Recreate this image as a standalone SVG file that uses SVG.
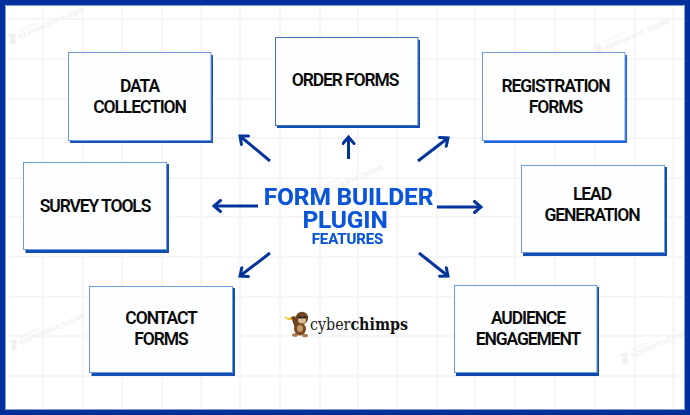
<svg xmlns="http://www.w3.org/2000/svg" width="690" height="415" viewBox="0 0 690 415">
<style>
.box{fill:#fdfeff;stroke:#6f9ade;stroke-width:1}
.sh{fill:#1450b2}
.t{font-family:Roboto,"Liberation Sans",sans-serif;font-weight:600;font-size:17.500px;letter-spacing:-1.100px;fill:#0a0a0a;text-anchor:middle}
.h{font-family:Roboto,"Liberation Sans",sans-serif;font-weight:700;text-anchor:middle;fill:#0b56d8;filter:drop-shadow(.6px .6px 0 #8fb2ee)}
.a{fill:none;stroke:#03339c;stroke-width:3;marker-end:url(#ah)}
.g{stroke:#f6f6f8;stroke-width:2.200;fill:none}
.w{font-family:Roboto,"Liberation Sans",sans-serif;font-size:6.500px;font-weight:500;fill:#ededef;letter-spacing:.5px}
.w2{font-family:Roboto,"Liberation Sans",sans-serif;font-size:3.500px;fill:#f0f0f2}
.m{fill:#f0f0ee}
</style>
<defs>
<marker id="ah" markerUnits="userSpaceOnUse" markerWidth="14" markerHeight="14" refX="11" refY="7" orient="auto"><path d="M4.500 1.500L11 7L4.500 12.500" fill="none" stroke="#03339c" stroke-width="3" stroke-linecap="round"/></marker>
<g id="wm">
<circle cx="-7" cy="-3" r="2.800" class="m"/><ellipse cx="-7" cy="2" rx="2.800" ry="3.500" class="m"/><path d="M-9 -3L-13 -5L-12 -2Z" class="m"/>
<text class="w" transform="rotate(-23)">RESPONSIVE THEME</text>
<text class="w2" transform="rotate(-23) translate(2 -7)">CyberChimps</text>
</g>
</defs>
<rect width="690" height="415" fill="#fff"/>
<path class="g" d="M43 5V410M83 5V410M122 5V410M162 5V410M201 5V410M240 5V410M280 5V410M320 5V410M358 5V410M397 5V410M437 5V410M475 5V410M515 5V410M555 5V410M595 5V410M635 5V410M673 5V410M5 19H685M5 59H685M5 99H685M5 138H685M5 178H685M5 217H685M5 257H685M5 297H685M5 336H685M5 376H685"/>
<g id="watermarks">
<use href="#wm" x="20" y="39"/>
<use href="#wm" x="606" y="50"/>
<use href="#wm" x="21" y="345"/>
<use href="#wm" x="632" y="358"/>
<use href="#wm" x="320" y="196"/>
</g>
<path d="M2.500 2.500H687.500V412.500H2.500Z" fill="none" stroke="#00309b" stroke-width="5"/>
<path d="M5.500 5.500H684.500V409.500H5.500Z" fill="none" stroke="#7d9fdc" stroke-width="1"/>
<g id="connectors">
<path class="a" d="M270 161L240 136"/>
<path class="a" d="M348.500 159L348.500 137"/>
<path class="a" d="M418 161L448 138"/>
<path class="a" d="M258 206L214 206"/>
<path class="a" d="M437 207L481 207"/>
<path class="a" d="M270 253L240 276"/>
<path class="a" d="M419 253L448 276"/>
</g>
<g id="n-data"><rect class="sh" x="70" y="55" width="143" height="88" style="fill:#1a52b5"/><rect class="box" x="68.500" y="52.500" width="142.500" height="88"/><text class="t" x="139.500" y="92">DATA</text><text class="t" x="139.500" y="113">COLLECTION</text></g>
<g id="n-order"><rect class="sh" x="277" y="40" width="143" height="88"/><rect class="box" x="275.500" y="37.500" width="142.500" height="88" style="stroke:#3f70c0"/><text class="t" x="345" y="86">ORDER FORMS</text></g>
<g id="n-registration"><rect class="sh" x="484" y="55" width="143" height="88" style="fill:#1f63e0"/><rect class="box" x="482.500" y="52.500" width="142.500" height="88"/><text class="t" x="555.500" y="92">REGISTRATION</text><text class="t" x="555.500" y="113">FORMS</text></g>
<g id="n-survey"><rect class="sh" x="25.500" y="164" width="143.500" height="89"/><rect class="box" x="23.500" y="162.500" width="143" height="87"/><text class="t" x="95" y="212">SURVEY TOOLS</text></g>
<g id="n-lead"><rect class="sh" x="523" y="167" width="144" height="89"/><rect class="box" x="521.500" y="165.500" width="143" height="87"/><text class="t" x="592" y="200">LEAD</text><text class="t" x="592" y="221">GENERATION</text></g>
<g id="n-contact"><rect class="sh" x="91.500" y="288" width="143.500" height="88"/><rect class="box" x="89.500" y="286.500" width="143" height="86"/><text class="t" x="161" y="324">CONTACT</text><text class="t" x="161" y="345">FORMS</text></g>
<g id="n-audience"><rect class="sh" x="456" y="287" width="143" height="89" style="fill:#0f47a8"/><rect class="box" x="454.500" y="285.500" width="142.500" height="87"/><text class="t" x="528" y="324">AUDIENCE</text><text class="t" x="528" y="345">ENGAGEMENT</text></g>
<g id="n-center">
<text class="h" x="348.500" y="205" font-size="24.500" letter-spacing="-.15">FORM BUILDER</text>
<text class="h" x="345" y="228" font-size="24.500" letter-spacing="-.15">PLUGIN</text>
<text class="h" x="347.500" y="244" font-size="15" letter-spacing="-.1">FEATURES</text>
</g>
<g id="logo">
<path d="M283.500 315.500Q288 320 293 316L294 319Q287 322 283.500 315.500Z" fill="#e8c020"/>
<path d="M291 317L295 316L299 324L295 328Z" fill="#6e4320"/>
<ellipse cx="300" cy="329" rx="6" ry="6.500" fill="#7a4a22"/>
<ellipse cx="295" cy="335" rx="3" ry="1.800" fill="#a87c50"/><ellipse cx="305" cy="335.500" rx="3" ry="1.800" fill="#a87c50"/>
<circle cx="302" cy="318" r="6.200" fill="#6e4320"/>
<ellipse cx="302" cy="320" rx="4" ry="3.500" fill="#dcbc94"/>
<path d="M298 317.500h8" stroke="#1b1b1b" stroke-width="1.800"/>
<ellipse cx="300" cy="328.500" rx="3" ry="3.500" fill="#c09a6c"/>
<text x="310" y="330" font-family="'DejaVu Serif','Liberation Serif',serif" font-size="16.500" fill="#222" textLength="98" lengthAdjust="spacingAndGlyphs">cyber<tspan font-weight="700" fill="#111">chimps</tspan></text>
</g>
</svg>
